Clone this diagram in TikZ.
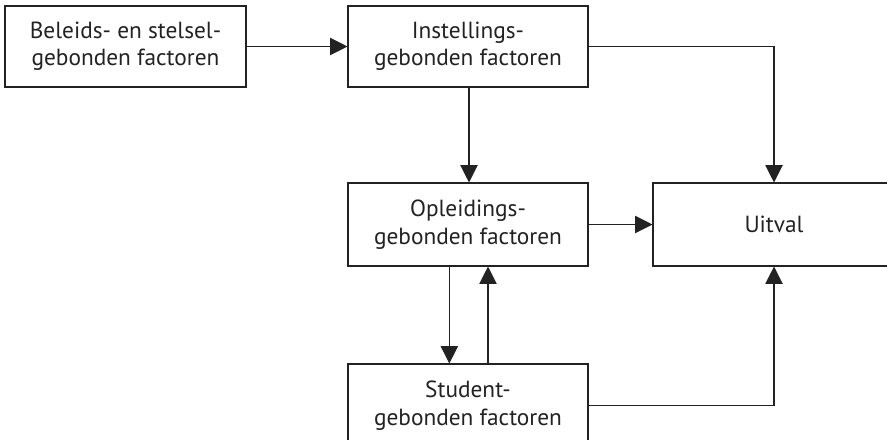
\documentclass[tikz,border=0pt]{standalone}
\usepackage{fontspec}
\setmainfont{PT Sans}
\usetikzlibrary{arrows.meta}
\definecolor{ink}{HTML}{222222}
\tikzset{
  box/.style={draw=ink, line width=0.8pt, rectangle, minimum width=#1*0.75pt, inner sep=0pt, align=center,
    font=\fontsize{17.5pt}{20.5pt}\selectfont, text=ink},
  conn/.style={draw=ink, line width=0.8pt, -{Triangle[length=13pt,width=13pt]}},
}
\begin{document}
\begin{tikzpicture}[x=0.75pt,y=-0.75pt]
\useasboundingbox (0,0) rectangle (887,439);
\clip (0,0) rectangle (887,439);
\node[box=241, minimum height=81*0.75pt] (A) at (125.5,46.5) {Beleids- en stelsel-\\gebonden factoren};
\node[box=240, minimum height=81*0.75pt] (B) at (468,46.5) {Instellings-\\gebonden factoren};
\node[box=240, minimum height=83*0.75pt] (C) at (468,224.5) {Opleidings-\\gebonden factoren};
\node[box=242, minimum height=83*0.75pt] (D) at (774,224.5) {Uitval};
\node[box=240, minimum height=83*0.75pt] (E) at (468,405.5) {Student-\\gebonden factoren};
\draw[conn] (A.east) -- (B.west);
\draw[conn] (B.east) -| (D.north);
\draw[conn] ([xshift=0.75pt]B.south) -- ([xshift=0.75pt]C.north);
\draw[conn] (C.east) -- (D.west);
\draw[conn] ([xshift=-14pt]C.south) -- ([xshift=-14pt]E.north);
\draw[conn] ([xshift=15pt]E.north) -- ([xshift=15pt]C.south);
\draw[conn] (E.east) -| (D.south);
\end{tikzpicture}
\end{document}
